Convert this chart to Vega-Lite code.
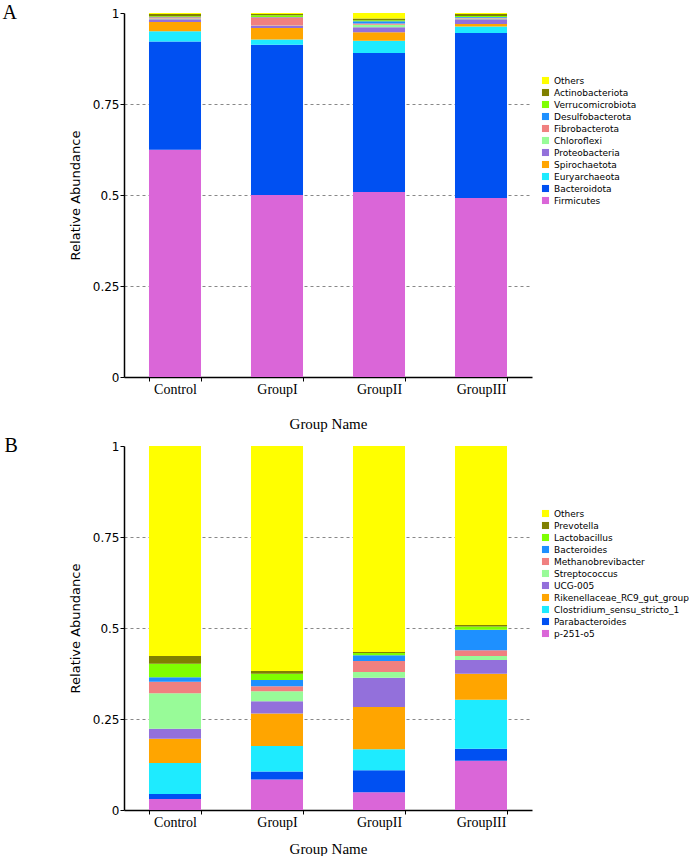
{
  "$schema": "https://vega.github.io/schema/vega-lite/v6.json",
  "padding": {"left": 2, "top": 3, "right": 0, "bottom": 0},
  "background": "white",
  "spacing": 5,
  "config": {
    "view": {"stroke": null},
    "axis": {"domainColor": "black", "tickColor": "black", "labelColor": "black", "titleColor": "black", "titleFontWeight": "normal", "domainWidth": 1.5, "tickWidth": 1, "tickSize": 4},
    "axisX": {"labelAngle": 0, "labelFont": "Liberation Serif", "labelFontSize": 14, "titleFont": "Liberation Serif", "titleFontSize": 15, "tickBand": "extent", "labelPadding": 1, "grid": false},
    "axisY": {"labelFont": "DejaVu Sans", "labelFontSize": 12, "titleFont": "DejaVu Sans", "titleFontSize": 13, "titlePadding": 10, "labelPadding": 1},
    "legend": {"orient": "none", "legendX": 417, "legendY": 63, "title": null, "symbolType": "square", "symbolSize": 50, "symbolStrokeWidth": 0, "labelFont": "DejaVu Sans", "labelFontSize": 9, "labelColor": "black", "rowPadding": 2, "padding": 0, "labelOffset": 4},
    "title": {"orient": "left", "anchor": "end", "angle": 0, "align": "right", "baseline": "top", "font": "Liberation Serif", "fontSize": 20, "fontWeight": "normal", "color": "black", "offset": 38, "dy": -4}
  },
  "resolve": {"scale": {"color": "independent"}, "legend": {"color": "independent"}},
  "vconcat": [
    {
      "title": "A",
      "width": 408,
      "height": 364,
      "data": {"values": [
        {"g": "Control", "t": "Firmicutes", "r": 1, "v": 0.624},
        {"g": "Control", "t": "Bacteroidota", "r": 2, "v": 0.298},
        {"g": "Control", "t": "Euryarchaeota", "r": 3, "v": 0.028},
        {"g": "Control", "t": "Spirochaetota", "r": 4, "v": 0.025},
        {"g": "Control", "t": "Proteobacteria", "r": 5, "v": 0.008},
        {"g": "Control", "t": "Chloroflexi", "r": 6, "v": 0.002},
        {"g": "Control", "t": "Fibrobacterota", "r": 7, "v": 0.003},
        {"g": "Control", "t": "Desulfobacterota", "r": 8, "v": 0.001},
        {"g": "Control", "t": "Verrucomicrobiota", "r": 9, "v": 0.002},
        {"g": "Control", "t": "Actinobacteriota", "r": 10, "v": 0.006},
        {"g": "Control", "t": "Others", "r": 11, "v": 0.003},
        {"g": "GroupI", "t": "Firmicutes", "r": 1, "v": 0.5},
        {"g": "GroupI", "t": "Bacteroidota", "r": 2, "v": 0.413},
        {"g": "GroupI", "t": "Euryarchaeota", "r": 3, "v": 0.014},
        {"g": "GroupI", "t": "Spirochaetota", "r": 4, "v": 0.032},
        {"g": "GroupI", "t": "Proteobacteria", "r": 5, "v": 0.006},
        {"g": "GroupI", "t": "Chloroflexi", "r": 6, "v": 0.001},
        {"g": "GroupI", "t": "Fibrobacterota", "r": 7, "v": 0.022},
        {"g": "GroupI", "t": "Desulfobacterota", "r": 8, "v": 0.001},
        {"g": "GroupI", "t": "Verrucomicrobiota", "r": 9, "v": 0.005},
        {"g": "GroupI", "t": "Actinobacteriota", "r": 10, "v": 0.003},
        {"g": "GroupI", "t": "Others", "r": 11, "v": 0.003},
        {"g": "GroupII", "t": "Firmicutes", "r": 1, "v": 0.508},
        {"g": "GroupII", "t": "Bacteroidota", "r": 2, "v": 0.382},
        {"g": "GroupII", "t": "Euryarchaeota", "r": 3, "v": 0.034},
        {"g": "GroupII", "t": "Spirochaetota", "r": 4, "v": 0.023},
        {"g": "GroupII", "t": "Proteobacteria", "r": 5, "v": 0.014},
        {"g": "GroupII", "t": "Chloroflexi", "r": 6, "v": 0.007},
        {"g": "GroupII", "t": "Fibrobacterota", "r": 7, "v": 0.003},
        {"g": "GroupII", "t": "Desulfobacterota", "r": 8, "v": 0.006},
        {"g": "GroupII", "t": "Verrucomicrobiota", "r": 9, "v": 0.003},
        {"g": "GroupII", "t": "Actinobacteriota", "r": 10, "v": 0.005},
        {"g": "GroupII", "t": "Others", "r": 11, "v": 0.015},
        {"g": "GroupIII", "t": "Firmicutes", "r": 1, "v": 0.492},
        {"g": "GroupIII", "t": "Bacteroidota", "r": 2, "v": 0.453},
        {"g": "GroupIII", "t": "Euryarchaeota", "r": 3, "v": 0.018},
        {"g": "GroupIII", "t": "Spirochaetota", "r": 4, "v": 0.007},
        {"g": "GroupIII", "t": "Proteobacteria", "r": 5, "v": 0.013},
        {"g": "GroupIII", "t": "Chloroflexi", "r": 6, "v": 0.002},
        {"g": "GroupIII", "t": "Fibrobacterota", "r": 7, "v": 0.002},
        {"g": "GroupIII", "t": "Desulfobacterota", "r": 8, "v": 0.002},
        {"g": "GroupIII", "t": "Verrucomicrobiota", "r": 9, "v": 0.003},
        {"g": "GroupIII", "t": "Actinobacteriota", "r": 10, "v": 0.005},
        {"g": "GroupIII", "t": "Others", "r": 11, "v": 0.003}
      ]},
      "mark": {"type": "bar"},
      "encoding": {
        "x": {"field": "g", "type": "nominal", "title": "Group Name", "sort": ["Control", "GroupI", "GroupII", "GroupIII"], "scale": {"paddingInner": 0.49, "paddingOuter": 0.245}, "axis": {"titlePadding": 20}},
        "y": {"field": "v", "type": "quantitative", "stack": "zero", "title": "Relative Abundance", "scale": {"domain": [0, 1], "nice": false},
          "axis": {"values": [0, 0.25, 0.5, 0.75, 1], "format": ".2~f", "grid": true, "gridColor": "#888888", "gridDash": [3, 3], "gridWidth": 1, "gridOpacity": {"condition": {"test": "datum.value == 0 || datum.value == 1", "value": 0}, "value": 1}}},
        "color": {"field": "t", "type": "nominal", "scale": {
          "domain": ["Others", "Actinobacteriota", "Verrucomicrobiota", "Desulfobacterota", "Fibrobacterota", "Chloroflexi", "Proteobacteria", "Spirochaetota", "Euryarchaeota", "Bacteroidota", "Firmicutes"],
          "range": ["#FFFF00", "#808000", "#7FFF00", "#1E90FF", "#F08080", "#98FB98", "#9370DB", "#FFA500", "#1EEBFF", "#0050F2", "#DA66D8"]}},
        "order": {"field": "r", "type": "quantitative"}
      }
    },
    {
      "title": "B",
      "width": 408,
      "height": 364,
      "data": {"values": [
        {"g": "Control", "t": "p-251-o5", "r": 1, "v": 0.030},
        {"g": "Control", "t": "Parabacteroides", "r": 2, "v": 0.014},
        {"g": "Control", "t": "Clostridium_sensu_stricto_1", "r": 3, "v": 0.085},
        {"g": "Control", "t": "Rikenellaceae_RC9_gut_group", "r": 4, "v": 0.067},
        {"g": "Control", "t": "UCG-005", "r": 5, "v": 0.027},
        {"g": "Control", "t": "Streptococcus", "r": 6, "v": 0.098},
        {"g": "Control", "t": "Methanobrevibacter", "r": 7, "v": 0.031},
        {"g": "Control", "t": "Bacteroides", "r": 8, "v": 0.013},
        {"g": "Control", "t": "Lactobacillus", "r": 9, "v": 0.037},
        {"g": "Control", "t": "Prevotella", "r": 10, "v": 0.021},
        {"g": "Control", "t": "Others", "r": 11, "v": 0.577},
        {"g": "GroupI", "t": "p-251-o5", "r": 1, "v": 0.084},
        {"g": "GroupI", "t": "Parabacteroides", "r": 2, "v": 0.022},
        {"g": "GroupI", "t": "Clostridium_sensu_stricto_1", "r": 3, "v": 0.070},
        {"g": "GroupI", "t": "Rikenellaceae_RC9_gut_group", "r": 4, "v": 0.089},
        {"g": "GroupI", "t": "UCG-005", "r": 5, "v": 0.034},
        {"g": "GroupI", "t": "Streptococcus", "r": 6, "v": 0.027},
        {"g": "GroupI", "t": "Methanobrevibacter", "r": 7, "v": 0.014},
        {"g": "GroupI", "t": "Bacteroides", "r": 8, "v": 0.017},
        {"g": "GroupI", "t": "Lactobacillus", "r": 9, "v": 0.017},
        {"g": "GroupI", "t": "Prevotella", "r": 10, "v": 0.008},
        {"g": "GroupI", "t": "Others", "r": 11, "v": 0.618},
        {"g": "GroupII", "t": "p-251-o5", "r": 1, "v": 0.049},
        {"g": "GroupII", "t": "Parabacteroides", "r": 2, "v": 0.060},
        {"g": "GroupII", "t": "Clostridium_sensu_stricto_1", "r": 3, "v": 0.058},
        {"g": "GroupII", "t": "Rikenellaceae_RC9_gut_group", "r": 4, "v": 0.116},
        {"g": "GroupII", "t": "UCG-005", "r": 5, "v": 0.080},
        {"g": "GroupII", "t": "Streptococcus", "r": 6, "v": 0.016},
        {"g": "GroupII", "t": "Methanobrevibacter", "r": 7, "v": 0.030},
        {"g": "GroupII", "t": "Bacteroides", "r": 8, "v": 0.016},
        {"g": "GroupII", "t": "Lactobacillus", "r": 9, "v": 0.006},
        {"g": "GroupII", "t": "Prevotella", "r": 10, "v": 0.003},
        {"g": "GroupII", "t": "Others", "r": 11, "v": 0.566},
        {"g": "GroupIII", "t": "p-251-o5", "r": 1, "v": 0.135},
        {"g": "GroupIII", "t": "Parabacteroides", "r": 2, "v": 0.033},
        {"g": "GroupIII", "t": "Clostridium_sensu_stricto_1", "r": 3, "v": 0.135},
        {"g": "GroupIII", "t": "Rikenellaceae_RC9_gut_group", "r": 4, "v": 0.071},
        {"g": "GroupIII", "t": "UCG-005", "r": 5, "v": 0.038},
        {"g": "GroupIII", "t": "Streptococcus", "r": 6, "v": 0.011},
        {"g": "GroupIII", "t": "Methanobrevibacter", "r": 7, "v": 0.016},
        {"g": "GroupIII", "t": "Bacteroides", "r": 8, "v": 0.056},
        {"g": "GroupIII", "t": "Lactobacillus", "r": 9, "v": 0.009},
        {"g": "GroupIII", "t": "Prevotella", "r": 10, "v": 0.004},
        {"g": "GroupIII", "t": "Others", "r": 11, "v": 0.492}
      ]},
      "mark": {"type": "bar"},
      "encoding": {
        "x": {"field": "g", "type": "nominal", "title": "Group Name", "sort": ["Control", "GroupI", "GroupII", "GroupIII"], "scale": {"paddingInner": 0.49, "paddingOuter": 0.245}, "axis": {"titlePadding": 12}},
        "y": {"field": "v", "type": "quantitative", "stack": "zero", "title": "Relative Abundance", "scale": {"domain": [0, 1], "nice": false},
          "axis": {"values": [0, 0.25, 0.5, 0.75, 1], "format": ".2~f", "grid": true, "gridColor": "#888888", "gridDash": [3, 3], "gridWidth": 1, "gridOpacity": {"condition": {"test": "datum.value == 0 || datum.value == 1", "value": 0}, "value": 1}}},
        "color": {"field": "t", "type": "nominal", "scale": {
          "domain": ["Others", "Prevotella", "Lactobacillus", "Bacteroides", "Methanobrevibacter", "Streptococcus", "UCG-005", "Rikenellaceae_RC9_gut_group", "Clostridium_sensu_stricto_1", "Parabacteroides", "p-251-o5"],
          "range": ["#FFFF00", "#808000", "#7FFF00", "#1E90FF", "#F08080", "#98FB98", "#9370DB", "#FFA500", "#1EEBFF", "#0050F2", "#DA66D8"]}},
        "order": {"field": "r", "type": "quantitative"}
      }
    }
  ]
}
